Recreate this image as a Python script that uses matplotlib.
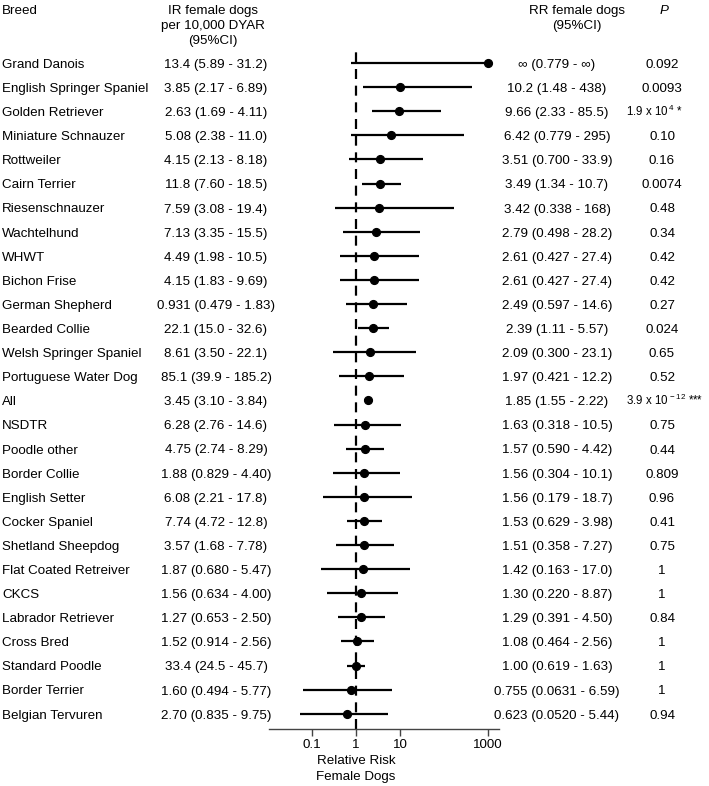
import matplotlib
matplotlib.use("Agg")
import matplotlib.pyplot as plt
import matplotlib.transforms as mtransforms
import numpy as np

plt.rcParams["font.family"] = ["Liberation Sans", "DejaVu Sans"]
plt.rcParams["mathtext.fontset"] = "custom"
plt.rcParams["mathtext.rm"] = "Liberation Sans"
plt.rcParams["mathtext.it"] = "Liberation Sans:italic"

# ─── Data ─────────────────────────────────────────────────────
breeds = [
    "Grand Danois", "English Springer Spaniel", "Golden Retriever",
    "Miniature Schnauzer", "Rottweiler", "Cairn Terrier", "Riesenschnauzer",
    "Wachtelhund", "WHWT", "Bichon Frise", "German Shepherd", "Bearded Collie",
    "Welsh Springer Spaniel", "Portuguese Water Dog", "All", "NSDTR",
    "Poodle other", "Border Collie", "English Setter", "Cocker Spaniel",
    "Shetland Sheepdog", "Flat Coated Retreiver", "CKCS", "Labrador Retriever",
    "Cross Bred", "Standard Poodle", "Border Terrier", "Belgian Tervuren",
]

ir_text = [
    "13.4 (5.89 - 31.2)", "3.85 (2.17 - 6.89)", "2.63 (1.69 - 4.11)",
    "5.08 (2.38 - 11.0)", "4.15 (2.13 - 8.18)", "11.8 (7.60 - 18.5)",
    "7.59 (3.08 - 19.4)", "7.13 (3.35 - 15.5)", "4.49 (1.98 - 10.5)",
    "4.15 (1.83 - 9.69)", "0.931 (0.479 - 1.83)", "22.1 (15.0 - 32.6)",
    "8.61 (3.50 - 22.1)", "85.1 (39.9 - 185.2)", "3.45 (3.10 - 3.84)",
    "6.28 (2.76 - 14.6)", "4.75 (2.74 - 8.29)", "1.88 (0.829 - 4.40)",
    "6.08 (2.21 - 17.8)", "7.74 (4.72 - 12.8)", "3.57 (1.68 - 7.78)",
    "1.87 (0.680 - 5.47)", "1.56 (0.634 - 4.00)", "1.27 (0.653 - 2.50)",
    "1.52 (0.914 - 2.56)", "33.4 (24.5 - 45.7)", "1.60 (0.494 - 5.77)",
    "2.70 (0.835 - 9.75)",
]

rr_text = [
    "\u221e (0.779 - \u221e)", "10.2 (1.48 - 438)", "9.66 (2.33 - 85.5)",
    "6.42 (0.779 - 295)", "3.51 (0.700 - 33.9)", "3.49 (1.34 - 10.7)",
    "3.42 (0.338 - 168)", "2.79 (0.498 - 28.2)", "2.61 (0.427 - 27.4)",
    "2.61 (0.427 - 27.4)", "2.49 (0.597 - 14.6)", "2.39 (1.11 - 5.57)",
    "2.09 (0.300 - 23.1)", "1.97 (0.421 - 12.2)", "1.85 (1.55 - 2.22)",
    "1.63 (0.318 - 10.5)", "1.57 (0.590 - 4.42)", "1.56 (0.304 - 10.1)",
    "1.56 (0.179 - 18.7)", "1.53 (0.629 - 3.98)", "1.51 (0.358 - 7.27)",
    "1.42 (0.163 - 17.0)", "1.30 (0.220 - 8.87)", "1.29 (0.391 - 4.50)",
    "1.08 (0.464 - 2.56)", "1.00 (0.619 - 1.63)", "0.755 (0.0631 - 6.59)",
    "0.623 (0.0520 - 5.44)",
]

rr = np.array([np.inf, 10.2, 9.66, 6.42, 3.51, 3.49, 3.42, 2.79, 2.61, 2.61,
               2.49, 2.39, 2.09, 1.97, 1.85, 1.63, 1.57, 1.56, 1.56, 1.53,
               1.51, 1.42, 1.30, 1.29, 1.08, 1.00, 0.755, 0.623])
rr_lo = np.array([0.779, 1.48, 2.33, 0.779, 0.700, 1.34, 0.338, 0.498, 0.427,
                  0.427, 0.597, 1.11, 0.300, 0.421, 1.55, 0.318, 0.590, 0.304,
                  0.179, 0.629, 0.358, 0.163, 0.220, 0.391, 0.464, 0.619,
                  0.0631, 0.0520])
rr_hi = np.array([np.inf, 438, 85.5, 295, 33.9, 10.7, 168, 28.2, 27.4, 27.4,
                  14.6, 5.57, 23.1, 12.2, 2.22, 10.5, 4.42, 10.1, 18.7, 3.98,
                  7.27, 17.0, 8.87, 4.50, 2.56, 1.63, 6.59, 5.44])

p_text = [
    "0.092", "0.0093", "1.9 x 10$^{\\,4}$ *", "0.10", "0.16", "0.0074", "0.48",
    "0.34", "0.42", "0.42", "0.27", "0.024", "0.65", "0.52",
    "3.9 x 10$^{\\,-12}$ ***", "0.75", "0.44", "0.809", "0.96", "0.41", "0.75",
    "1", "1", "0.84", "1", "1", "1", "0.94",
]

xticks = [0.1, 1, 10, 1000]
INF_DRAW = 1000  # where an infinite estimate is drawn

# ─── Figure ───────────────────────────────────────────────────
W, H = 709, 786
fig = plt.figure(figsize=(W / 100, H / 100), dpi=100, facecolor="white")
fs = 9.6

row0_px, row_step = 63, 24.1
ax_top_px, ax_bot_px = 48, 729
ax_l_px, ax_r_px = 269, 499
ax = fig.add_axes([ax_l_px / W, 1 - ax_bot_px / H,
                   (ax_r_px - ax_l_px) / W, (ax_bot_px - ax_top_px) / H])

y = -np.arange(len(breeds))
ax.set_ylim(-(ax_bot_px - row0_px) / row_step, (row0_px - ax_top_px) / row_step)
ax.set_xscale("log")
ax.set_xlim(0.0105, 1800)

est = np.minimum(rr, INF_DRAW)
lo = np.minimum(rr_lo, INF_DRAW)
hi = np.minimum(rr_hi, INF_DRAW)
ax.hlines(y, lo, hi, color="black", linewidth=1.6, zorder=2)
ax.plot(est, y, "o", color="black", markersize=5.6, zorder=3)
ax.axvline(1, color="black", linewidth=1.6, linestyle=(0, (4.5, 3)), zorder=1)

for side in ("top", "right", "left"):
    ax.spines[side].set_visible(False)
ax.spines["bottom"].set_linewidth(1.0)
ax.spines["bottom"].set_color("#444444")
ax.set_yticks([])
ax.set_xticks(xticks)
ax.set_xticklabels([f"{t:g}" for t in xticks])
ax.minorticks_off()
ax.tick_params(axis="x", direction="out", length=5, width=1.0,
               labelsize=fs, pad=2, color="#444444")
ax.annotate("Relative Risk\nFemale Dogs", xy=(1, 0), xycoords=("data", "axes fraction"),
            xytext=(0, -19), textcoords="offset points", ha="center", va="top",
            fontsize=fs, linespacing=1.4)

# ─── Table columns ────────────────────────────────────────────
# x in figure fraction, y on the row scale; shift so caps centre on the row
tr = mtransforms.blended_transform_factory(fig.transFigure, ax.transData)
tr = tr + mtransforms.ScaledTranslation(0, -4.9 / 100, fig.dpi_scale_trans)
for i in range(len(breeds)):
    ax.text(2 / W, y[i], breeds[i], transform=tr, ha="left", va="baseline", fontsize=fs)
    ax.text(216 / W, y[i], ir_text[i], transform=tr, ha="center", va="baseline", fontsize=fs)
    ax.text(557 / W, y[i], rr_text[i], transform=tr, ha="center", va="baseline", fontsize=fs)
    if "x 10" in p_text[i]:
        ax.text(626 / W, y[i], p_text[i], transform=tr, ha="left", va="baseline",
                fontsize=fs - 1.3)
    else:
        ax.text(662 / W, y[i], p_text[i], transform=tr, ha="center", va="baseline",
                fontsize=fs)

# ─── Headers ──────────────────────────────────────────────────
def head(x_px, y_px, s, **kw):
    fig.text(x_px / W, 1 - y_px / H, s, ha=kw.pop("ha", "center"), va="center",
             fontsize=fs, **kw)

head(2, 11, "Breed", ha="left")
head(213, 11, "IR female dogs")
head(213, 26, "per 10,000 DYAR")
head(213, 41, "(95%CI)")
head(577, 11, "RR female dogs")
head(577, 26, "(95%CI)")
head(664, 11, "P", style="italic")

fig.savefig("out.png", dpi=100, facecolor="white")
